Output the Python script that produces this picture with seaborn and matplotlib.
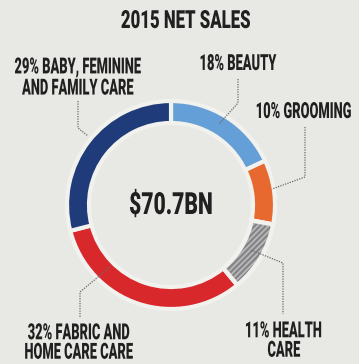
import matplotlib
matplotlib.use("Agg")
import matplotlib.pyplot as plt
from matplotlib.patches import Wedge
from matplotlib.patheffects import AbstractPathEffect
from matplotlib.text import Text
from matplotlib.transforms import Affine2D, Bbox
import seaborn as sns

# 2015 net sales split by segment (percent of total)
segments = ["BEAUTY", "GROOMING", "HEALTH\nCARE", "FABRIC AND\nHOME CARE CARE",
            "BABY, FEMININE\nAND FAMILY CARE"]
shares = [18, 10, 11, 32, 29]
total_label = "$70.7BN"
title = "2015 NET SALES"

seg_colors = ["#659fd7", "#e8692f", "#838385", "#d9282b", "#1f3b7a"]
bg = "#e8e8e4"
gap = "#f1f1ee"


class Condensed(AbstractPathEffect):
    """Squeeze glyphs horizontally about each line's centre."""

    def __init__(self, sx):
        super().__init__()
        self.sx = sx

    def draw_path(self, renderer, gc, tpath, affine, rgbFace=None):
        v = tpath.vertices
        mid = (v[:, 0].min() + v[:, 0].max()) / 2 if len(v) else 0
        squeeze = Affine2D().translate(-mid, 0).scale(self.sx, 1).translate(mid, 0)
        renderer.draw_path(gc, tpath, squeeze + affine, rgbFace)


class CondensedText(Text):
    """Centre-aligned text drawn in a narrow cut; its extent shrinks to match."""

    def __init__(self, *args, sx=1.0, **kwargs):
        super().__init__(*args, **kwargs)
        self._sx = sx
        self.set_path_effects([Condensed(sx)])

    def get_window_extent(self, renderer=None, dpi=None):
        bb = super().get_window_extent(renderer, dpi)
        mid = (bb.x0 + bb.x1) / 2
        half = bb.width * self._sx / 2
        return Bbox.from_extents(mid - half, bb.y0, mid + half, bb.y1)


sns.set_theme(style="white")
plt.rcParams["font.family"] = ["Roboto", "DejaVu Sans"]
plt.rcParams["hatch.linewidth"] = 1.3

fig = plt.figure(figsize=(3.59, 3.64), dpi=100, facecolor=bg)
ax = fig.add_axes([0, 0, 1, 1])
ax.set_facecolor(bg)

cx, cy, r, w = 171, 205, 104, 22
# y axis runs downward, so counterclock in data space reads clockwise on screen
wedges, _ = ax.pie(shares, colors=sns.color_palette(seg_colors), startangle=-90,
                   counterclock=True, center=(cx, cy), radius=r,
                   wedgeprops=dict(width=w, edgecolor=gap, linewidth=3))

# striped fill for health care, then its gap outline again on top
hc = wedges[2]
ax.add_patch(Wedge((cx, cy), r, hc.theta1, hc.theta2, width=w, facecolor="none",
                   edgecolor="#b9b9bb", hatch="//////", lw=0, zorder=hc.get_zorder() + 0.1))
ax.add_patch(Wedge((cx, cy), r, hc.theta1, hc.theta2, width=w, facecolor="none",
                   edgecolor=gap, lw=3, zorder=hc.get_zorder() + 0.2))

ax.set_xlim(0, 359)
ax.set_ylim(364, 0)
ax.set_aspect("equal")
ax.axis("off")

txt = dict(color="#202020", fontweight="heavy", ha="center", va="center")


def put(x, y, s, sx, **kw):
    ax.add_artist(CondensedText(x, y, s, sx=sx, transform=ax.transData, **txt, **kw))


put(186, 21, title, 0.67, fontsize=18)
put(cx, 205, total_label, 0.69, fontsize=22)

labels = [f"{p}% {s}" for p, s in zip(shares, segments)]
label_pos = [(238, 64), (304, 112), (284, 341), (79, 343), (78, 78)]
spacing = [1.0, 1.0, 0.85, 0.85, 0.95]
for lab, (x, y), ls in zip(labels, label_pos, spacing):
    put(x, y, lab, 0.58, fontsize=16, linespacing=ls)

# dotted leader lines from labels to the ring
leaders = [
    [(238, 79), (238, 103), (219, 124)],
    [(305, 127), (305, 177), (272, 189)],
    [(251, 250), (283, 263), (283, 314)],
    [(110, 267), (80, 292), (80, 318)],
    [(78, 101), (78, 128), (88, 136)],
]
for pts in leaders:
    xs, ys = zip(*pts)
    ax.plot(xs, ys, color="#6a6a6a", lw=0.9, ls=(0, (1, 1)), zorder=5)

fig.savefig("out.png", dpi=100, facecolor=bg)
